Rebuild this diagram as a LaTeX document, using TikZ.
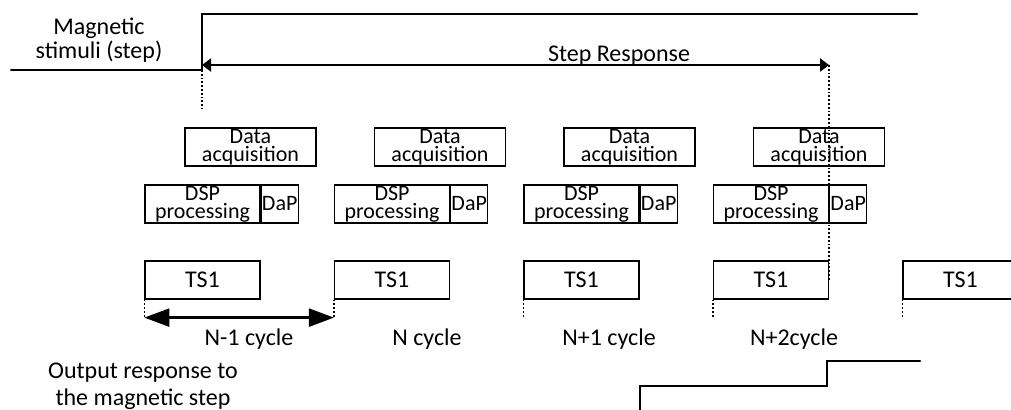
\documentclass[tikz,border=0pt]{standalone}
\usepackage{fontspec}
\setmainfont{Carlito}
\usetikzlibrary{arrows.meta,positioning}
\tikzset{
  box/.style={draw, line width=0.6pt, inner sep=0pt, align=center, minimum height=19pt},
  sig/.style={line width=1pt, line cap=round},
  guide/.style={densely dotted, line width=0.9pt},
  lbl/.style={anchor=base, inner sep=0pt, font=\fontsize{12}{10}\selectfont},
}
\begin{document}
\begin{tikzpicture}[x=0.5pt, y=-0.5pt, font=\fontsize{11}{9}\selectfont]
    \useasboundingbox (0,0) rectangle (1011,409);
    \clip (0,0) rectangle (1011,409);

    % magnetic step
    \draw[sig] (11,70) -- (202,70) -- (202,14) -- (917,14);
    \node[lbl, align=center] (stim) at (99,58) {Magnetic\\stimuli (step)};
    \coordinate (edge) at (202,70);
    \draw[guide] (edge) -- ++(0,39);

    % processing blocks
    \foreach \i in {0,...,3} {
        \node[box, minimum width=65.5pt] (acq\i) at (250.5+189.5*\i,147) {Data\\acquisition};
        \node[box, minimum width=57.5pt] (dsp\i) at (202.5+189.5*\i,204) {DSP\\processing};
        \node[box, minimum width=18.5pt, right=0pt of dsp\i] (dap\i) {DaP};
    }
    \foreach \i in {0,...,4} {
        \node[box, minimum width=57.5pt, font=\fontsize{12}{10}\selectfont] (ts\i) at (202.5+189.5*\i,280) {TS1};
        \draw[guide] (ts\i.south west) -- ++(0,18);
    }

    % step response
    \coordinate (r0) at (202,65);
    \coordinate (r1) at (ts3.east |- r0);
    \draw[guide] (r1) -- (ts3.east);
    \draw[line width=1pt, {Triangle[length=4.5pt,width=6.5pt]}-{Triangle[length=4.5pt,width=6.5pt]}] (r0) -- (r1);
    \node[lbl] (resp) at (619,61) {Step Response};

    % cycle
    \coordinate (c0) at ([yshift=-9pt]ts0.south west);
    \coordinate (c1) at ([yshift=-9pt]ts1.south west);
    \draw[line width=1.2pt, {Triangle[length=12.5pt,width=9pt]}-{Triangle[length=12.5pt,width=9pt]}] (c0) -- (c1);
    \foreach \x/\lab [count=\k] in {249/N-1 cycle, 427/N cycle, 609/N+1 cycle, 794/N+2cycle}
        \node[lbl] (cyc\k) at (\x,345) {\lab};

    % output response
    \node[lbl, align=center, font=\fontsize{12}{13.5}\selectfont] (out) at (143,405) {Output response to\\the magnetic step};
    \draw[sig] (640,420) -- (640,386) -- (827,386) -- (827,361) -- (920,361);
\end{tikzpicture}
\end{document}
